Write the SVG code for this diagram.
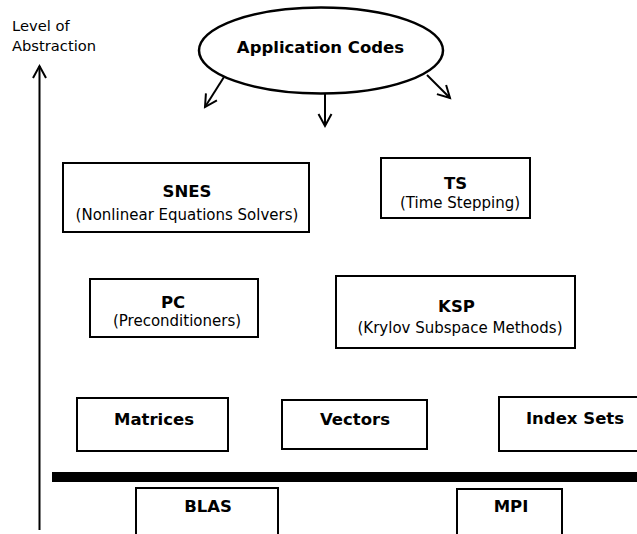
<svg xmlns="http://www.w3.org/2000/svg" width="637" height="534" viewBox="0 0 637 534">
  <style>
    .box { fill: #ffffff; stroke: #000000; stroke-width: 2; }
    .ell { fill: #ffffff; stroke: #000000; stroke-width: 2.5; }
    .title { font-family: "DejaVu Sans", sans-serif; font-weight: bold; font-size: 16.5px; fill: #000000; text-anchor: middle; }
    .sub { font-family: "DejaVu Sans", sans-serif; font-size: 15px; fill: #000000; text-anchor: middle; }
    .axis { font-family: "DejaVu Sans", sans-serif; font-size: 14.7px; fill: #000000; }
    .conn { fill: none; stroke: #000000; stroke-width: 2; }
  </style>
  <defs>
    <marker id="vhead" viewBox="-14 -10 16 20" markerWidth="16" markerHeight="20" refX="0" refY="0" orient="auto" markerUnits="userSpaceOnUse" overflow="visible">
      <path d="M-12,-6.5 L0,0 L-12,6.5" fill="none" stroke="#000000" stroke-width="2"/>
    </marker>
  </defs>
  <rect width="637" height="534" fill="#ffffff"/>

  <!-- axis label -->
  <g id="axis-label">
    <text class="axis" x="12" y="31">Level of</text>
    <text class="axis" x="12" y="51">Abstraction</text>
  </g>

  <!-- connectors -->
  <g id="connectors">
    <line class="conn" x1="39.5" y1="530" x2="39.5" y2="66" marker-end="url(#vhead)"/>
    <line class="conn" x1="224" y1="77" x2="205" y2="107" marker-end="url(#vhead)"/>
    <line class="conn" x1="325" y1="94" x2="325" y2="126" marker-end="url(#vhead)"/>
    <line class="conn" x1="427" y1="75" x2="450" y2="98" marker-end="url(#vhead)"/>
  </g>

  <g id="app-codes">
    <ellipse class="ell" cx="321" cy="50.5" rx="122" ry="43"/>
    <text class="title" x="320.5" y="53">Application Codes</text>
  </g>

  <g id="snes">
    <rect class="box" x="63" y="163" width="246" height="69"/>
    <text class="title" x="187" y="197">SNES</text>
    <text class="sub" x="187" y="220">(Nonlinear Equations Solvers)</text>
  </g>

  <g id="ts">
    <rect class="box" x="381" y="158" width="149" height="60"/>
    <text class="title" x="455.5" y="189">TS</text>
    <text class="sub" x="460" y="208">(Time Stepping)</text>
  </g>

  <g id="pc">
    <rect class="box" x="90" y="279" width="168" height="58"/>
    <text class="title" x="173" y="308">PC</text>
    <text class="sub" x="177" y="326">(Preconditioners)</text>
  </g>

  <g id="ksp">
    <rect class="box" x="336" y="276" width="239" height="72"/>
    <text class="title" x="456.5" y="312">KSP</text>
    <text class="sub" x="460" y="333">(Krylov Subspace Methods)</text>
  </g>

  <g id="matrices">
    <rect class="box" x="77" y="398" width="151" height="53"/>
    <text class="title" x="154" y="425">Matrices</text>
  </g>

  <g id="vectors">
    <rect class="box" x="282" y="400" width="145" height="49"/>
    <text class="title" x="355" y="425">Vectors</text>
  </g>

  <g id="index-sets">
    <rect class="box" x="499" y="397" width="140" height="54"/>
    <text class="title" x="575" y="424">Index Sets</text>
  </g>

  <!-- separator between PETSc and external libraries -->
  <rect id="separator" x="52" y="472" width="585" height="10" fill="#000000"/>

  <g id="blas">
    <rect class="box" x="136" y="488" width="142" height="60"/>
    <text class="title" x="208" y="512">BLAS</text>
  </g>

  <g id="mpi">
    <rect class="box" x="457" y="489" width="105" height="60"/>
    <text class="title" x="511" y="512">MPI</text>
  </g>
</svg>
